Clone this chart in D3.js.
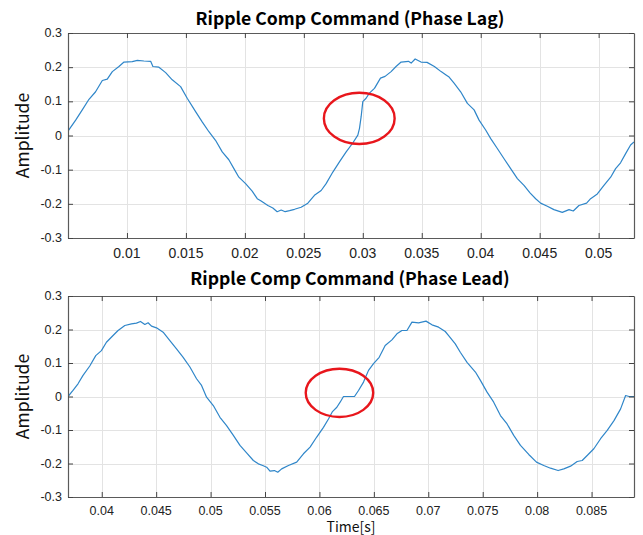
<!DOCTYPE html>
<html>
<head>
<meta charset="utf-8">
<script src="https://cdn.jsdelivr.net/npm/d3@7"></script>
<style>
  html, body { margin: 0; padding: 0; background: #fff; }
  svg { display: block; }
</style>
</head>
<body>
<svg id="chart" width="643" height="535"></svg>
<script>
// Ripple compensation command, phase-lag case (time in s, amplitude)
const lagTime = [0.005,0.00565,0.00621,0.00678,0.00734,0.00791,0.00833,0.00876,0.00932,0.00975,
  0.01045,0.01088,0.01144,0.01201,0.0122,0.01271,0.01328,0.01384,0.01455,0.01511,
  0.01582,0.01638,0.01695,0.01751,0.01808,0.01864,0.01907,0.01949,0.02006,0.02062,
  0.02105,0.02138,0.02195,0.02237,0.02274,0.02308,0.02342,0.02379,0.02421,0.02477,
  0.02534,0.0259,0.02647,0.02689,0.02746,0.02802,0.02859,0.02915,0.02958,0.02972,
  0.02986,0.03,0.03028,0.03056,0.03099,0.0315,0.03189,0.0324,0.03282,0.03325,
  0.03387,0.0341,0.03444,0.03494,0.03545,0.03607,0.03664,0.03706,0.03732,0.03774,
  0.0383,0.03887,0.03944,0.03986,0.04042,0.04085,0.04141,0.04198,0.04254,0.04311,
  0.04367,0.04418,0.04466,0.04508,0.04565,0.04621,0.04692,0.04749,0.04785,0.04833,
  0.04898,0.04932,0.04989,0.05045,0.05102,0.05144,0.05186,0.05229,0.05271,0.053];
const lagAmp = [0.013,0.045,0.075,0.106,0.128,0.161,0.165,0.187,0.202,0.215,
  0.216,0.220,0.218,0.217,0.202,0.200,0.184,0.163,0.143,0.109,
  0.070,0.040,0.011,-0.014,-0.048,-0.071,-0.097,-0.122,-0.141,-0.163,
  -0.185,-0.192,-0.205,-0.212,-0.223,-0.218,-0.223,-0.220,-0.216,-0.210,
  -0.198,-0.175,-0.161,-0.141,-0.107,-0.077,-0.048,-0.022,0.001,0.021,
  0.055,0.099,0.109,0.124,0.138,0.168,0.173,0.187,0.202,0.215,
  0.217,0.212,0.224,0.215,0.214,0.202,0.187,0.177,0.171,0.153,
  0.128,0.094,0.075,0.045,0.016,-0.009,-0.038,-0.068,-0.097,-0.126,
  -0.146,-0.168,-0.185,-0.198,-0.207,-0.217,-0.225,-0.217,-0.221,-0.205,
  -0.198,-0.185,-0.171,-0.146,-0.122,-0.097,-0.080,-0.053,-0.028,-0.019];

// Ripple compensation command, phase-lead case
const leadTime = [0.0369,0.03736,0.03782,0.03828,0.0389,0.03945,0.03997,0.04043,0.04104,0.0415,
  0.04212,0.04273,0.04319,0.04356,0.04396,0.04426,0.04457,0.04503,0.04564,0.04626,
  0.04687,0.04748,0.0481,0.04871,0.04917,0.04963,0.05025,0.05086,0.05147,0.05209,
  0.0527,0.05331,0.05393,0.05439,0.05479,0.05515,0.05546,0.05586,0.05617,0.05653,
  0.05715,0.05791,0.05853,0.05914,0.05975,0.06037,0.06083,0.0612,0.0616,0.0619,
  0.06221,0.06322,0.06359,0.06405,0.06451,0.06497,0.06549,0.06604,0.06666,0.06712,
  0.06758,0.06804,0.0685,0.06911,0.06979,0.07034,0.07095,0.07156,0.07187,0.07248,
  0.07294,0.07356,0.07433,0.07479,0.0754,0.07601,0.07663,0.07724,0.07785,0.07847,
  0.07923,0.07994,0.08061,0.08123,0.08193,0.08245,0.08307,0.08368,0.08414,0.0846,
  0.08521,0.08583,0.08644,0.08706,0.08767,0.08813,0.08844,0.0889];
const leadAmp = [0.000,0.018,0.038,0.063,0.091,0.122,0.137,0.162,0.182,0.197,
  0.212,0.217,0.219,0.224,0.215,0.220,0.210,0.205,0.192,0.167,
  0.142,0.117,0.088,0.053,0.033,-0.002,-0.027,-0.062,-0.087,-0.116,
  -0.146,-0.168,-0.191,-0.201,-0.206,-0.211,-0.223,-0.221,-0.226,-0.216,
  -0.206,-0.196,-0.171,-0.151,-0.121,-0.092,-0.067,-0.045,-0.032,-0.017,
  0.000,0.000,0.018,0.043,0.078,0.098,0.117,0.152,0.169,0.187,
  0.197,0.197,0.222,0.220,0.225,0.214,0.207,0.194,0.182,0.157,
  0.132,0.102,0.073,0.048,0.013,-0.017,-0.057,-0.082,-0.116,-0.146,
  -0.173,-0.196,-0.206,-0.214,-0.221,-0.216,-0.208,-0.194,-0.191,-0.176,
  -0.156,-0.126,-0.101,-0.072,-0.037,0.003,0.000,0.000];

// Axis ticks and labels
const lagTicks  = [0.01,0.015,0.02,0.025,0.03,0.035,0.04,0.045,0.05];
const leadTicks = [0.04,0.045,0.05,0.055,0.06,0.065,0.07,0.075,0.08,0.085];
const ampTicks  = [-0.3,-0.2,-0.1,0,0.1,0.2,0.3];
const titles    = ["Ripple Comp Command (Phase Lag)", "Ripple Comp Command (Phase Lead)"];
const yLabel    = "Amplitude";
const xLabel    = "Time[s]";

// Highlighted discontinuity around the zero crossing: [centre t, centre amp, half-width t, half-height amp]
const lagMark  = [0.0297, 0.05, 0.003, 0.075];
const leadMark = [0.06184, 0.011, 0.0031, 0.072];

const svg = d3.select("#chart");
const lineColor = "#2f86c9";
const fontUI = "'Noto Sans CJK KR', 'Noto Sans', sans-serif";
const fontNum = "'Liberation Sans', Arial, sans-serif";

const panels = [
  { time: lagTime, amp: lagAmp, ticks: lagTicks, xDomain: [0.005, 0.053], mark: lagMark,
    title: titles[0], left: 68, right: 634, top: 33, bottom: 238,
    tickFont: 14, yTickFont: 12.5, xLabelY: 253, titleY: 25, showX: false },
  { time: leadTime, amp: leadAmp, ticks: leadTicks, xDomain: [0.0369, 0.0889], mark: leadMark,
    title: titles[1], left: 68, right: 634, top: 296, bottom: 497,
    tickFont: 12.5, yTickFont: 12.5, xLabelY: 511, titleY: 285, showX: true }
];

const fmt = v => String(+v.toFixed(4)).replace("\u2212", "-");

panels.forEach((p, i) => {
  const x = d3.scaleLinear().domain(p.xDomain).range([p.left, p.right]);
  const y = d3.scaleLinear().domain([-0.3, 0.3]).range([p.bottom, p.top]);
  const g = svg.append("g");

  // grid
  g.selectAll(".vgrid").data(p.ticks).join("line")
    .attr("x1", d => Math.round(x(d)) + 0.5).attr("x2", d => Math.round(x(d)) + 0.5)
    .attr("y1", p.top).attr("y2", p.bottom)
    .attr("stroke", "#e3e3e3").attr("stroke-width", 1);
  g.selectAll(".hgrid").data(ampTicks).join("line")
    .attr("y1", d => Math.round(y(d)) + 0.5).attr("y2", d => Math.round(y(d)) + 0.5)
    .attr("x1", p.left).attr("x2", p.right)
    .attr("stroke", "#e3e3e3").attr("stroke-width", 1);

  // signal
  const clipId = "clip" + i;
  svg.append("clipPath").attr("id", clipId).append("rect")
    .attr("x", p.left).attr("y", p.top).attr("width", p.right - p.left).attr("height", p.bottom - p.top);
  const pts = p.time.map((t, k) => [t, p.amp[k]]);
  g.append("path")
    .attr("clip-path", `url(#${clipId})`)
    .attr("d", d3.line().x(d => x(d[0])).y(d => y(d[1]))(pts))
    .attr("fill", "none").attr("stroke", lineColor).attr("stroke-width", 1.2)
    .attr("stroke-linejoin", "round");

  // axes: bottom/top/left/right with inward ticks
  const tickLen = -5;
  const ax = [
    [d3.axisBottom(x).tickValues(p.ticks).tickSize(tickLen).tickFormat(""), `translate(0,${p.bottom})`],
    [d3.axisTop(x).tickValues(p.ticks).tickSize(tickLen).tickFormat(""), `translate(0,${p.top})`],
    [d3.axisLeft(y).tickValues(ampTicks).tickSize(tickLen).tickFormat(""), `translate(${p.left},0)`],
    [d3.axisRight(y).tickValues(ampTicks).tickSize(tickLen).tickFormat(""), `translate(${p.right},0)`]
  ];
  ax.forEach(([a, tr]) => {
    const ag = g.append("g").attr("transform", tr).call(a.tickSizeOuter(0));
    ag.select(".domain").attr("stroke", "#5a5a5a").attr("stroke-width", 1.2);
    ag.selectAll(".tick line").attr("stroke", "#444");
  });

  // tick labels
  g.selectAll(".xl").data(p.ticks).join("text")
    .attr("x", d => x(d)).attr("y", p.xLabelY)
    .attr("text-anchor", "middle").attr("dominant-baseline", "central")
    .attr("font-family", fontNum).attr("font-size", p.tickFont).attr("fill", "#222")
    .text(fmt);
  g.selectAll(".yl").data(ampTicks).join("text")
    .attr("x", p.left - 6).attr("y", d => y(d))
    .attr("text-anchor", "end").attr("dominant-baseline", "central")
    .attr("font-family", fontNum).attr("font-size", p.yTickFont).attr("fill", "#222")
    .text(fmt);

  // y label
  g.append("text")
    .attr("transform", `translate(21,${(p.top + p.bottom) / 2}) rotate(-90)`)
    .attr("text-anchor", "middle").attr("dominant-baseline", "central")
    .attr("font-family", fontUI).attr("font-size", 17.5).attr("fill", "#111")
    .text(yLabel);

  // title
  g.append("text")
    .attr("x", (p.left + p.right) / 2 - 1).attr("y", p.titleY)
    .attr("text-anchor", "middle")
    .attr("font-family", fontUI).attr("font-weight", "bold").attr("font-size", 17.6).attr("fill", "#000")
    .text(p.title);

  if (p.showX) {
    g.append("text")
      .attr("x", 351).attr("y", 526)
      .attr("text-anchor", "middle").attr("dominant-baseline", "central")
      .attr("font-family", fontUI).attr("font-size", 14).attr("fill", "#111")
      .text(xLabel);
  }

  // highlight ellipse
  const [cx, cy, rx, ry] = p.mark;
  g.append("ellipse")
    .attr("cx", x(cx)).attr("cy", y(cy))
    .attr("rx", x(cx + rx) - x(cx)).attr("ry", y(cy) - y(cy + ry))
    .attr("fill", "none").attr("stroke", "#e8161c").attr("stroke-width", 2.4);
});
</script>
</body>
</html>
